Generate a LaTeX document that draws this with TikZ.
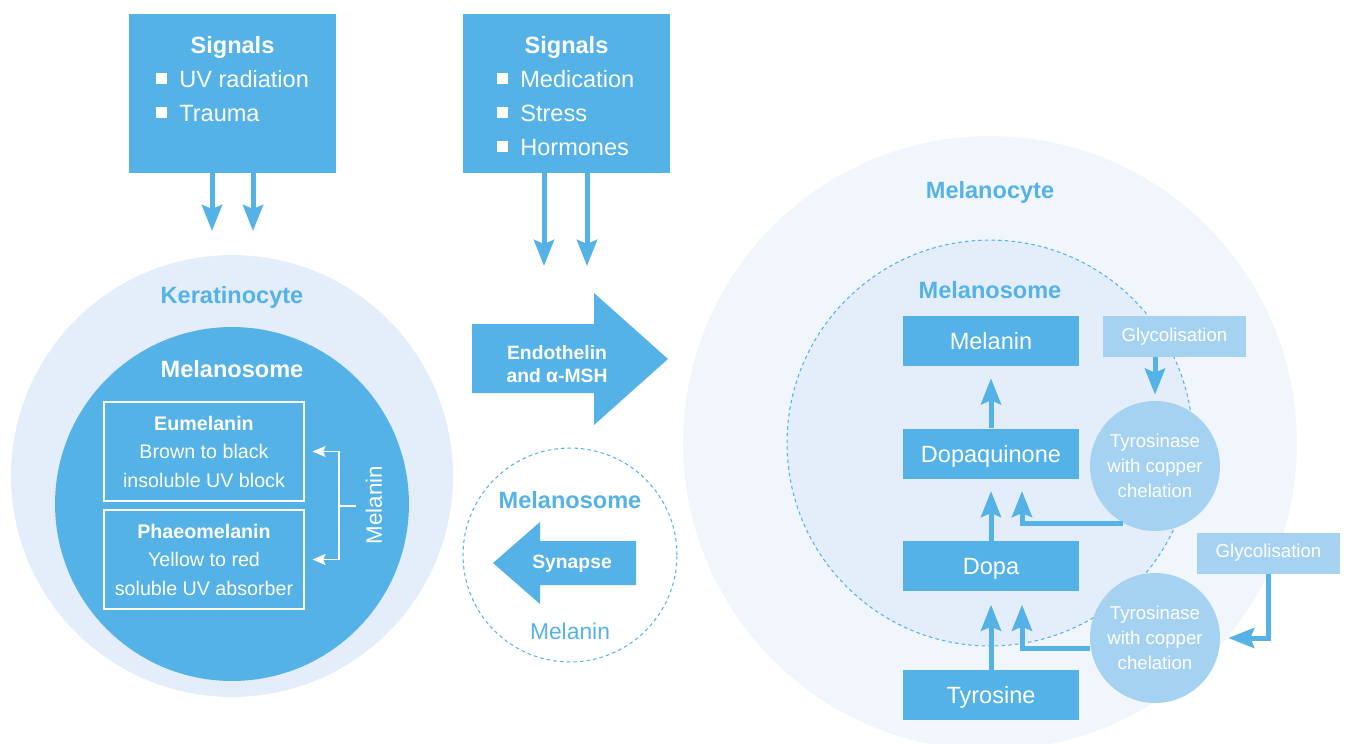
\documentclass[tikz,border=0pt]{standalone}
\usepackage{fontspec}
\setmainfont{Liberation Sans}
\usetikzlibrary{arrows.meta, positioning}

\definecolor{cellblue}{RGB}{84,178,230}
\definecolor{kerafill}{RGB}{227,238,250}
\definecolor{cytefill}{RGB}{241,246,253}
\definecolor{somefill}{RGB}{228,238,250}
\definecolor{paleblue}{RGB}{166,210,241}

\begin{document}
\begin{tikzpicture}[
    x=0.02cm, y=-0.02cm,
    sigbox/.style={rectangle, fill=cellblue, minimum width=4.14cm, minimum height=3.18cm},
    pathbox/.style={rectangle, fill=cellblue, text=white,
      minimum width=3.52cm, minimum height=1cm,
      font=\fontsize{13.4}{16}\selectfont, text height=9.6pt, text depth=0pt},
    pigbox/.style={rectangle, draw=white, line width=0.7pt,
      minimum width=4cm, minimum height=1.98cm,
      align=center, text=white, font=\fontsize{11.2}{16.2}\selectfont},
    glybox/.style={rectangle, fill=paleblue, text=white,
      minimum width=2.86cm, minimum height=0.82cm, font=\fontsize{10.6}{13}\selectfont},
    enzyme/.style={circle, fill=paleblue, text=white, inner sep=0pt,
      minimum size=2.6cm, align=center, font=\fontsize{10.6}{14.2}\selectfont},
    title/.style={font=\bfseries\fontsize{13.4}{16}\selectfont, anchor=base},
    item/.style={text=white, font=\fontsize{13.4}{16}\selectfont, anchor=base west, inner sep=0pt},
    bullet/.style={fill=white, minimum size=0.22cm, inner sep=0pt},
    flow/.style={cellblue, line width=0.1cm,
      -{Stealth[length=0.52cm, width=0.4cm, inset=0.08cm]}},
    fork/.style={white, line width=0.75pt,
      -{Stealth[length=0.26cm, width=0.22cm, inset=0.05cm]}},
    dashring/.style={circle, draw=cellblue, line width=0.6pt, dash pattern=on 2pt off 1.8pt}
  ]
  \useasboundingbox (0,0) rectangle (1346,744);

  % signals
  \node[sigbox] (sigA) at (232.5,93.5) {};
  \node[title, text=white] (sigAt) at (232.5,53) {Signals};
  \node[bullet] (bA1) at (161,78) {};
  \node[item] (tA1) at (179,87) {UV radiation};
  \node[bullet] (bA2) at (161,112) {};
  \node[item] (tA2) at (179,121) {Trauma};

  \node[sigbox] (sigB) at (566.5,93.5) {};
  \node[title, text=white] (sigBt) at (566.5,53) {Signals};
  \node[bullet] (bB1) at (502,78) {};
  \node[item] (tB1) at (520,87) {Medication};
  \node[bullet] (bB2) at (502,112) {};
  \node[item] (tB2) at (520,121) {Stress};
  \node[bullet] (bB3) at (502,146) {};
  \node[item] (tB3) at (520,155) {Hormones};

  \coordinate (kA) at (212,231);
  \coordinate (kB) at (253,231);
  \coordinate (mA) at (544,266);
  \coordinate (mB) at (587,266);
  \draw[flow] (sigA.south -| kA) -- (kA);
  \draw[flow] (sigA.south -| kB) -- (kB);
  \draw[flow] (sigB.south -| mA) -- (mA);
  \draw[flow] (sigB.south -| mB) -- (mB);

  % keratinocyte
  \node[circle, fill=kerafill, minimum size=8.84cm] (kera) at (232,476) {};
  \node[circle, fill=cellblue, minimum size=7.08cm] (ksome) at (232,504) {};
  \node[title, text=cellblue] (keralbl) at (232,303) {Keratinocyte};
  \node[title, text=white] (ksomelbl) at (232,377) {Melanosome};
  \node[pigbox] (eu) at (204,451.5) {\textbf{Eumelanin}\\Brown to black\\insoluble UV block};
  \node[pigbox] (ph) at (204,559.5) {\textbf{Phaeomelanin}\\Yellow to red\\soluble UV absorber};
  \coordinate (fk) at (339,506);
  \coordinate (fkend) at (356,506);
  \draw[fork, shorten >=0.16cm] (fk) |- (eu.east);
  \draw[fork, shorten >=0.16cm] (fk) |- (ph.east);
  \draw[white, line width=0.75pt] (fk) -- (fkend);
  \node[rotate=90, text=white, font=\fontsize{12.7}{15}\selectfont] (melrot) at (374,505) {Melanin};

  % transfer
  \fill[cellblue] (472,324) -- (594,324) -- (594,293) -- (668,359)
    -- (594,425) -- (594,393) -- (472,393) -- cycle;
  \node[text=white, align=center, font=\bfseries\fontsize{11}{13}\selectfont] (endo) at (557,364)
    {Endothelin\\and α-MSH};
  \node[dashring, minimum size=4.28cm] (tsome) at (570,555) {};
  \node[title, text=cellblue] (tsomelbl) at (570,508) {Melanosome};
  \fill[cellblue] (636,541) -- (540,541) -- (540,522) -- (493,563)
    -- (540,604) -- (540,585) -- (636,585) -- cycle;
  \node[text=white, anchor=base, font=\bfseries\fontsize{11}{13}\selectfont] (syn) at (572,568) {Synapse};
  \node[text=cellblue, anchor=base, font=\fontsize{13}{15}\selectfont] (tmel) at (570,639) {Melanin};

  % melanocyte
  \node[circle, fill=cytefill, minimum size=12.28cm] (cyte) at (990,443) {};
  \node[dashring, fill=somefill, minimum size=8.12cm] (csome) at (990,443) {};
  \node[title, text=cellblue] (cytelbl) at (990,198) {Melanocyte};
  \node[title, text=cellblue] (csomelbl) at (990,298) {Melanosome};

  \node[pathbox] (mel) at (991,341) {Melanin};
  \node[pathbox, below=1.24cm of mel] (dq) {Dopaquinone};
  \node[pathbox, below=1.24cm of dq] (dopa) {Dopa};
  \node[pathbox, below=1.56cm of dopa] (tyr) {Tyrosine};

  \node[enzyme] (ty1) at (1155,466) {Tyrosinase\\with copper\\chelation};
  \node[enzyme] (ty2) at (1155,638) {Tyrosinase\\with copper\\chelation};
  \node[glybox] (gl1) at (1174.5,336.5) {Glycolisation};
  \node[glybox] (gl2) at (1268.5,553) {Glycolisation};

  \draw[flow, shorten >=0.24cm] (dq) -- (mel);
  \draw[flow, shorten >=0.24cm] (dopa) -- (dq);
  \draw[flow, shorten >=0.26cm] (tyr) -- (dopa);
  \draw[flow, shorten >=0.24cm] (ty1.241) -| ([xshift=0.62cm]dq.south);
  \draw[flow, shorten >=0.26cm] (ty2.189) -| ([xshift=0.62cm]dopa.south);
  \draw[flow, shorten >=0.12cm] (gl1.south -| ty1.north) -- (ty1.north);
  \draw[flow, shorten >=0.16cm] (gl2.south) |- (ty2.east);
\end{tikzpicture}
\end{document}
